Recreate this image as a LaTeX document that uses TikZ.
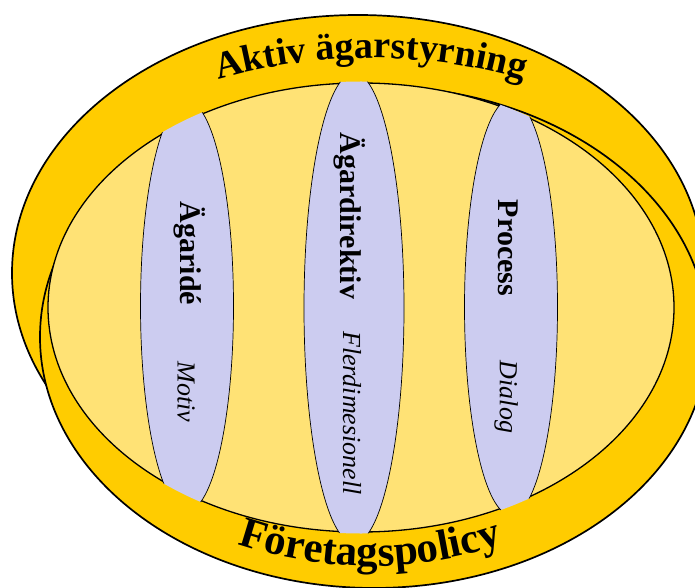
\documentclass[tikz,border=0pt]{standalone}
\usepackage{fontspec}
\setmainfont{Liberation Serif}
\usetikzlibrary{decorations.text}
\definecolor{ringgold}{RGB}{255,204,0}
\definecolor{discyellow}{RGB}{255,226,117}
\definecolor{pillarblue}{RGB}{204,204,240}
\begin{document}
\begin{tikzpicture}[x=1pt,y=1pt,
  ring/.style={fill=ringgold, draw=black, line width=1.7pt},
  disc/.style={fill=discyellow, draw=black, line width=1.3pt},
  pillar/.style={fill=pillarblue, draw=black, line width=0.7pt},
  head/.style={font=\fontsize{30}{30}\selectfont\bfseries, rotate=-90, inner sep=0pt},
  sub/.style={font=\fontsize{26}{26}\selectfont\itshape, rotate=-90, inner sep=0pt},
  arctext/.style={decorate, decoration={text along path, text align=center, text={#1}}}]
\useasboundingbox (0,0) rectangle (695,587);
% back ring
\path[ring] (358,314) ellipse [x radius=346, y radius=258];
% front ring
\path[ring] (374,250) ellipse [x radius=334, y radius=251];
% inner disc
\path[disc] (361,279.5) ellipse [x radius=313, y radius=224.5];
% three pillars, cut off at the rim of the disc
\begin{scope}
  \clip (361,279.5) ellipse [x radius=314.5, y radius=226];
  \path[pillar] (187,281) ellipse [x radius=46.5, y radius=205];
  \path[pillar] (354,279) ellipse [x radius=50, y radius=235];
  \path[pillar] (511,280) ellipse [x radius=46.5, y radius=208];
\end{scope}
% pillar labels
\node[head] (idea) at (190,333.5) {Ägaridé};
\node[head] (directive) at (350,371) {Ägardirektiv};
\node[head] (process) at (508,339) {Process};
\node[sub] (motive) at (186,195) {Motiv};
\node[sub] (multi) at (352,174) {Flerdimesionell};
\node[sub] (dialogue) at (506,190) {Dialog};
% ring captions along arcs
\path[arctext={|\fontsize{38}{38}\selectfont\bfseries|Aktiv ägarstyrning}]
  (371,-19) ++(110:548) arc[start angle=110, end angle=70, radius=548];
\path[arctext={|\fontsize{43}{43}\selectfont\bfseries|Företagspolicy}]
  (370,434) ++(250:413) arc[start angle=250, end angle=290, radius=413];
\end{tikzpicture}
\end{document}
